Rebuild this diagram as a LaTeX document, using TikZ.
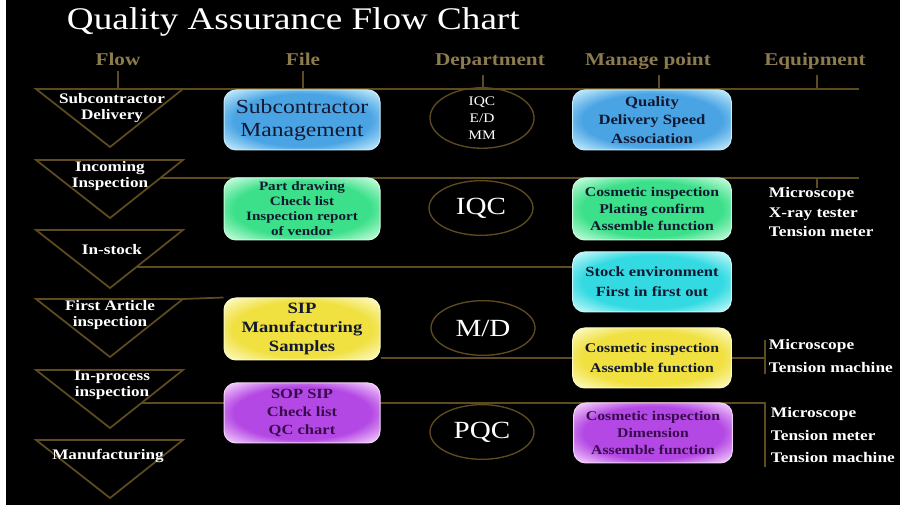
\documentclass[tikz,border=0pt]{standalone}
\usepackage{fontspec}
\setmainfont{Liberation Serif}[FakeStretch=1.18]
\usetikzlibrary{shapes.geometric,backgrounds}

\definecolor{gold}{HTML}{5E4C20}
\definecolor{hdrgold}{HTML}{8C7B4E}
\definecolor{blueI}{HTML}{4AA4E4}
\definecolor{blueO}{HTML}{C4ECFC}
\definecolor{greenI}{HTML}{3CE08A}
\definecolor{greenO}{HTML}{C8FCDC}
\definecolor{cyanI}{HTML}{34DAE2}
\definecolor{cyanO}{HTML}{C6F8FA}
\definecolor{yellowI}{HTML}{F0E040}
\definecolor{yellowO}{HTML}{FCFAC4}
\definecolor{purpleI}{HTML}{B448E4}
\definecolor{purpleO}{HTML}{F4D0FC}
\definecolor{darktxt}{HTML}{121830}
\definecolor{purpletxt}{HTML}{3A0A4E}

\pgfdeclareradialshading{glowblue}{\pgfpoint{0bp}{0bp}}{color(0bp)=(blueI); color(22bp)=(blueI); color(34bp)=(blueO); color(70bp)=(blueO)}
\pgfdeclareradialshading{glowgreen}{\pgfpoint{0bp}{0bp}}{color(0bp)=(greenI); color(22bp)=(greenI); color(34bp)=(greenO); color(70bp)=(greenO)}
\pgfdeclareradialshading{glowcyan}{\pgfpoint{0bp}{0bp}}{color(0bp)=(cyanI); color(22bp)=(cyanI); color(34bp)=(cyanO); color(70bp)=(cyanO)}
\pgfdeclareradialshading{glowyellow}{\pgfpoint{0bp}{0bp}}{color(0bp)=(yellowI); color(22bp)=(yellowI); color(34bp)=(yellowO); color(70bp)=(yellowO)}
\pgfdeclareradialshading{glowpurple}{\pgfpoint{0bp}{0bp}}{color(0bp)=(purpleI); color(22bp)=(purpleI); color(34bp)=(purpleO); color(70bp)=(purpleO)}

\tikzset{every picture/.style={line width=0.75pt}}
\tikzset{
  hdr/.style={font=\fontsize{13.5}{16}\selectfont\bfseries, text=hdrgold, anchor=base},
  flowtxt/.style={font=\fontsize{10.9}{12}\selectfont\bfseries, text=white, align=center},
  infobox/.style={rounded corners=9pt, minimum height=45pt, align=center, text=darktxt, inner sep=2pt, shade},
  filebox/.style={infobox, minimum width=117pt},
  manbox/.style={infobox, minimum width=119pt},
  blueshade/.style={shading=glowblue, draw=blueO},
  greenshade/.style={shading=glowgreen, draw=greenO},
  cyanshade/.style={shading=glowcyan, draw=cyanO},
  yellowshade/.style={shading=glowyellow, draw=yellowO},
  purpleshade/.style={shading=glowpurple, draw=purpleO, text=purpletxt},
  dept/.style={ellipse, draw=gold, line width=1pt, minimum width=78pt, minimum height=41pt, text=white, align=center, inner sep=0pt},
  equip/.style={font=\fontsize{11}{14.3}\selectfont\bfseries, text=white, anchor=west, align=left},
  link/.style={draw=gold, line width=1.3pt}
}

\begin{document}
\begin{tikzpicture}[x=0.75pt,y=0.75pt,yscale=-1]
\useasboundingbox (0,0) rectangle (903,505);

% Title
\node (title) [anchor=base west, font=\fontsize{23.6}{28}\selectfont, text=white] at (62,30) {Quality Assurance Flow Chart};

% Column heads
\node (hflow) [hdr] at (118,66) {Flow};
\node (hfile) [hdr] at (303,66) {File};
\node (hdept) [hdr] at (490,66) {Department};
\node (hman) [hdr] at (648,66) {Manage point};
\node (heq) [hdr] at (815,66) {Equipment};

% Flow labels
\node (fsub) [flowtxt] at (112,108) {Subcontractor\\Delivery};
\node (finc) [flowtxt] at (110,176) {Incoming\\Inspection};
\node (fstk) [flowtxt] at (112,250) {In-stock};
\node (ffst) [flowtxt] at (110,315) {First Article\\inspection};
\node (fprc) [flowtxt] at (112,385) {In-process\\inspection};
\node (fman) [flowtxt] at (108,456) {Manufacturing};

% File boxes
\node (subfile) [filebox, blueshade, font=\fontsize{15}{17.3}\selectfont] at (302,120) {Subcontractor\\Management};
\node (iqcfile) [filebox, greenshade, minimum height=46.5pt, font=\fontsize{9.6}{11.3}\selectfont\bfseries] at (302,209) {Part drawing\\Check list\\Inspection report\\of vendor};
\node (sipfile) [filebox, yellowshade, minimum height=46.5pt, font=\fontsize{11.8}{14.3}\selectfont\bfseries] at (302,329) {SIP\\Manufacturing\\Samples};
\node (sopfile) [filebox, purpleshade, font=\fontsize{10.5}{13.5}\selectfont\bfseries] at (302,413) {SOP SIP\\Check list\\QC chart};

% Departments
\node (d1) [dept, font=\fontsize{9.8}{12.8}\selectfont] at (482,118) {IQC\\E/D\\MM};
\node (d2) [dept, font=\fontsize{18.5}{20}\selectfont] at (481,208) {IQC};
\node (d3) [dept, font=\fontsize{18.5}{20}\selectfont] at (483,328) {M/D};
\node (d4) [dept, font=\fontsize{18.5}{20}\selectfont] at (482,432) {PQC};

% Manage point boxes
\node (m1) [manbox, blueshade, font=\fontsize{10.6}{13.8}\selectfont\bfseries] at (652,120) {Quality\\Delivery Speed\\Association};
\node (m2) [manbox, greenshade, minimum height=46.5pt, font=\fontsize{10}{12.8}\selectfont\bfseries] at (652,209) {Cosmetic inspection\\Plating confirm\\Assemble function};
\node (m3) [manbox, cyanshade, font=\fontsize{10.5}{15}\selectfont\bfseries] at (652,282) {Stock environment\\First in first out};
\node (m4) [manbox, yellowshade, font=\fontsize{10}{15}\selectfont\bfseries] at (652,358) {Cosmetic inspection\\Assemble function};
\node (m5) [manbox, purpleshade, font=\fontsize{10}{12.8}\selectfont\bfseries] at (653,433) {Cosmetic inspection\\Dimension\\Assemble function};

% Equipment
\node (e1) [equip] at (764,212) {Microscope\\X-ray tester\\Tension meter};
\node (e2) [equip, font=\fontsize{11}{17}\selectfont\bfseries] at (764,356) {Microscope\\Tension machine};
\node (e3) [equip, font=\fontsize{11}{17}\selectfont\bfseries] at (766,435) {Microscope\\Tension meter\\Tension machine};

\begin{scope}[on background layer]
\fill[white] (0,0) rectangle (903,505);
\fill[black] (6,0) rectangle (900,505);

%Head ticks
\draw[link] (hflow.south) -- (hflow.south |- 0,89);
\draw[link] (hfile.south) -- (hfile.south |- 0,89);
\draw[link] ([xshift=-5pt]hdept.south) -- ([xshift=-5pt]hdept.south |- 0,89);
\draw[link] ([xshift=8pt]hman.south) -- ([xshift=8pt]hman.south |- 0,89);
\draw[link] ([xshift=1.5pt]heq.south) -- ([xshift=1.5pt]heq.south |- 0,89);

%Top line
\draw[link] (36,89) -- (859,89);

%Triangles
\draw[link] (36,89) -- (183,89) -- (110,147) -- cycle;
\draw[link] (36,160) -- (183,160) -- (110,218) -- cycle;
\draw[link] (36,230) -- (183,230) -- (110,288) -- cycle;
\draw[link] (36,299) -- (183,299) -- (110,357) -- cycle;
\draw[link] (36,370) -- (183,370) -- (110,428) -- cycle;
\draw[link] (36,440) -- (183,440) -- (110,498) -- cycle;

%Incoming inspection line
\draw[link] (160,178) -- (859,178);
\draw[link] (817,178) -- (817,188);

%In-stock line
\draw[link] (136,267) -- (m3.west |- 0,267);

%First article line
\draw[link] (183,299) -- (sipfile.north west);
\draw[link] (sipfile.east |- m4.west) -- (m4.west);
\draw[link] (m4.east) -- (765,358);
\draw[link] (765,340) -- (765,374);

%In-process line
\draw[link] (141,403) -- (765,403) -- (765,467);
\end{scope}

\end{tikzpicture}
\end{document}
